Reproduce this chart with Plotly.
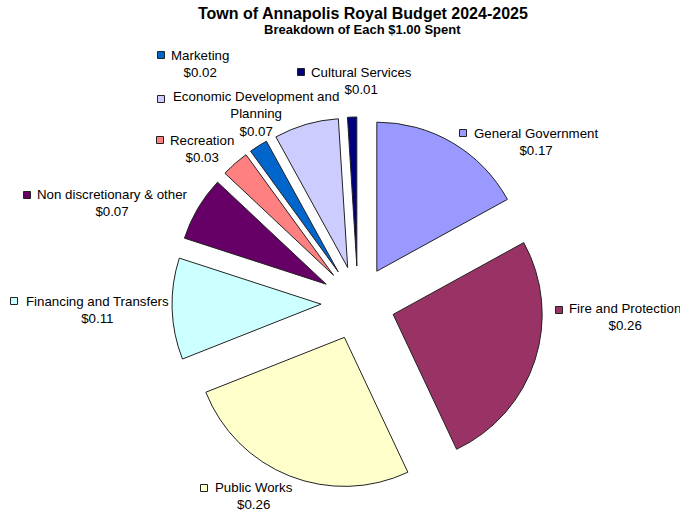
import plotly.graph_objects as go

W, H = 680, 514

categories = ["General Government", "Fire and Protection", "Public Works",
              "Financing and Transfers", "Non discretionary & other", "Recreation",
              "Marketing", "Economic Development and Planning", "Cultural Services"]
values = [0.17, 0.26, 0.26, 0.11, 0.07, 0.03, 0.02, 0.07, 0.01]
colors = ["#9999FF", "#993366", "#FFFFCC", "#CCFFFF", "#660066", "#FF8080",
          "#0066CC", "#CCCCFF", "#000080"]
label_lines = ["General Government", "Fire and Protection", "Public Works",
               "Financing and Transfers", "Non discretionary & other", "Recreation",
               "Marketing", "Economic Development and<br>Planning", "Cultural Services"]

# label layout (window pixel positions): text-block centre and legend-key centre
label_center = [(535.5, 141.5), (625, 317), (254, 495.5), (97.5, 309.5), (112.5, 203.5),
                (202, 149), (199.5, 63.5), (255.5, 114), (361.5, 81)]
key_center = [(463, 133), (559, 310), (204, 488), (14, 301), (27, 195),
              (160, 140), (161, 55), (161, 99), (301, 72)]


def px(x):
    return x / W


def py(y):
    return 1 - y / H


CX, CY, R_OUT = 358, 303, 186
fig = go.Figure(go.Pie(
    labels=categories, values=values, sort=False, direction="clockwise", rotation=0,
    pull=[0.248] * len(values),
    marker=dict(colors=colors, line=dict(color="#222222", width=1)),
    textinfo="none", hoverinfo="label+value", showlegend=False,
    domain=dict(x=[px(CX - R_OUT), px(CX + R_OUT)], y=[py(CY + R_OUT), py(CY - R_OUT)]),
))

font = "Arial, Liberation Sans, sans-serif"
ann = [
    dict(text="<b>Town of Annapolis Royal Budget 2024-2025</b>", x=px(363), y=py(13),
         font=dict(size=16, family=font, color="black")),
    dict(text="<b>Breakdown of Each $1.00 Spent</b>", x=px(362), y=py(29),
         font=dict(size=13, family=font, color="black")),
]
shapes = []
for name, v, (cx, cy), (kx, ky), col in zip(label_lines, values, label_center, key_center, colors):
    ann.append(dict(text=f"{name}<br>${v:.2f}", x=px(cx), y=py(cy), align="center",
                    font=dict(size=13.3, family=font, color="black")))
    shapes.append(dict(type="rect", xref="paper", yref="paper",
                       x0=px(kx - 3.5), x1=px(kx + 3.5),
                       y0=py(ky + 3.5), y1=py(ky - 3.5),
                       fillcolor=col, line=dict(color="#222222", width=1)))
for a in ann:
    a.update(xref="paper", yref="paper", showarrow=False, xanchor="center", yanchor="middle")

fig.update_layout(width=W, height=H, margin=dict(l=0, r=0, t=0, b=0),
                  paper_bgcolor="white", plot_bgcolor="white",
                  annotations=ann, shapes=shapes)
fig.write_html("out.html", config={"displayModeBar": False},
               post_script="document.body.style.margin='0';document.body.style.overflow='hidden';")
